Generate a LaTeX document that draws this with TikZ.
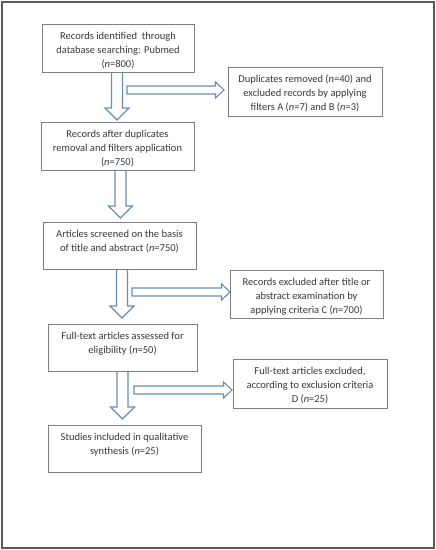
\documentclass[tikz,border=0pt]{standalone}
\usepackage{fontspec}
\setmainfont{Carlito}
\usetikzlibrary{calc}
\definecolor{boxgray}{HTML}{7F7F7F}
\definecolor{framegray}{HTML}{5A5A5A}
\definecolor{txt}{HTML}{3A3A3A}
\definecolor{arrblue}{HTML}{6A8DB8}
\newcommand\bxtext[3]{\parbox[c][#2][t]{#1}{\centering\rule{0pt}{15.5pt}#3}}
\newcommand\vblock[2]{\draw[barrow] let \p1=#1, \p2=#2 in
  (\x1-5.5pt,\y1) -- (\x1-5.5pt,\y2+12pt) -- (\x1-12pt,\y2+12pt) -- (\x1,\y2)
  -- (\x1+12pt,\y2+12pt) -- (\x1+5.5pt,\y2+12pt) -- (\x1+5.5pt,\y1);}
\newcommand\hblock[2]{\draw[barrow] let \p1=#1, \p2=#2 in
  (\x1,\y1+4pt) -- (\x2-8.5pt,\y1+4pt) -- (\x2-8.5pt,\y1+8pt) -- (\x2,\y1)
  -- (\x2-8.5pt,\y1-8pt) -- (\x2-8.5pt,\y1-4pt) -- (\x1,\y1-4pt) -- cycle;}
\tikzset{
  box/.style={draw=boxgray, line width=1pt, text=txt, anchor=north west,
    inner sep=0pt, outer sep=0pt, font=\fontsize{10.5}{14}\selectfont},
  barrow/.style={draw=arrblue, line width=1.1pt, line join=miter},
  outerframe/.style={draw=framegray, line width=1.5pt}
}
\begin{document}
\begin{tikzpicture}[x=1pt,y=-1pt]
\useasboundingbox[fill=white] (0,0) rectangle (436,550);
\draw[outerframe] (2,2) rectangle (434,548);
% boxes
\node[box] (b1) at (42,24) {\bxtext{152pt}{48pt}{Records identified\ \ through\\database searching: Pubmed\\(\textit{n}=800)}};
\node[box] (dup) at (228,67) {\bxtext{154pt}{49pt}{Duplicates removed (\textit{n}=40) and\\excluded records by applying\\filters A (\textit{n}=7) and B (\textit{n}=3)}};
\node[box] (b2) at (41,122) {\bxtext{153pt}{48pt}{Records after duplicates\\removal and filters application\\(\textit{n}=750)}};
\node[box] (b3) at (43,222) {\bxtext{153pt}{47pt}{Articles screened on the basis\\of title and abstract (\textit{n}=750)}};
\node[box] (re) at (230,270) {\bxtext{153pt}{48pt}{Records excluded after title or\\abstract examination by\\applying criteria C (\textit{n}=700)}};
\node[box] (b4) at (48,324) {\bxtext{149pt}{47pt}{Full-text articles assessed for\\eligibility (\textit{n}=50)}};
\node[box] (fe) at (233,359) {\bxtext{154pt}{49pt}{Full-text articles excluded,\\according to exclusion criteria\\D (\textit{n}=25)}};
\node[box] (b5) at (48,425) {\bxtext{153pt}{47pt}{Studies included in qualitative\\synthesis (\textit{n}=25)}};
% arrow axes and free ends
\coordinate (v1x) at (117,0);
\coordinate (v2x) at (120.5,0);
\coordinate (v3x) at (122,0);
\coordinate (v4x) at (122.5,0);
\coordinate (h1s) at (127,90);
\coordinate (h2s) at (132,292);
\coordinate (h3s) at (134,390);
% vertical block arrows
\vblock{(b1.south -| v1x)}{($(b2.north -| v1x)+(0,-2)$)}
\vblock{(b2.south -| v2x)}{($(b3.north -| v2x)+(0,-4)$)}
\vblock{(b3.south -| v3x)}{($(b4.north -| v3x)+(0,-6)$)}
\vblock{(b4.south -| v4x)}{($(b5.north -| v4x)+(0,-6)$)}
% horizontal block arrows
\hblock{(h1s)}{($(dup.west |- h1s)+(-4,0)$)}
\hblock{(h2s)}{(re.west |- h2s)}
\hblock{(h3s)}{($(fe.west |- h3s)+(-1,0)$)}
\end{tikzpicture}
\end{document}
